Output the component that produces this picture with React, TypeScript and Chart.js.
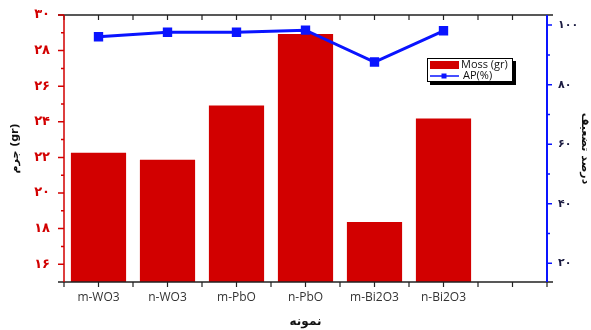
import React, { useEffect, useRef } from 'react';
import { Chart, registerables } from 'chart.js';
Chart.register(...registerables);

const categories = ['m-WO3', 'n-WO3', 'm-PbO', 'n-PbO', 'm-Bi2O3', 'n-Bi2O3', ''];
const mossValues = [22.26, 21.87, 24.92, 28.93, 18.37, 24.18, null];
const apValues = [96.1, 97.6, 97.6, 98.3, 87.6, 98.1, null];
const leftTicks = [16, 18, 20, 22, 24, 26, 28, 30];
const rightTicks = [20, 40, 60, 80, 100];
const leftMinor = [17, 19, 21, 23, 25, 27, 29];
const rightMinor = [30, 50, 70, 90];

const RED = '#d20000';
const BLUE = '#0a14ff';

const faDigits = '۰۱۲۳۴۵۶۷۸۹';
const toFa = (v: number | string) => String(v).replace(/[0-9]/g, (d) => faDigits[Number(d)]);

const framePlugin = {
  id: 'framePlugin',
  afterDraw(chart: any) {
    const { ctx, chartArea } = chart;
    const { left, right, top, bottom } = chartArea;
    const x = chart.scales.x;
    const y = chart.scales.y;
    const y1 = chart.scales.y1;
    ctx.save();
    ctx.strokeStyle = '#222';
    ctx.lineWidth = 1.5;
    ctx.beginPath();
    ctx.moveTo(58, top); ctx.lineTo(553, top);
    ctx.moveTo(58, bottom); ctx.lineTo(553, bottom);
    ctx.stroke();
    ctx.lineWidth = 1.2;
    ctx.beginPath();
    const n = categories.length;
    const half = (x.getPixelForValue(1) - x.getPixelForValue(0)) / 2;
    for (let i = 0; i < n; i++) {
      const c = x.getPixelForValue(i);
      [c, c - half, c + half].forEach((px) => {
        ctx.moveTo(px, bottom); ctx.lineTo(px, bottom + 5);
        ctx.moveTo(px, top); ctx.lineTo(px, top + 5);
      });
    }
    ctx.stroke();
    ctx.strokeStyle = RED;
    ctx.lineWidth = 1.5;
    ctx.beginPath();
    ctx.moveTo(left, top); ctx.lineTo(left, bottom);
    leftTicks.forEach((v) => { const p = y.getPixelForValue(v); ctx.moveTo(left - 6, p); ctx.lineTo(left, p); });
    leftMinor.forEach((v) => { const p = y.getPixelForValue(v); ctx.moveTo(left - 3, p); ctx.lineTo(left, p); });
    ctx.stroke();
    ctx.strokeStyle = BLUE;
    ctx.lineWidth = 2;
    ctx.beginPath();
    ctx.moveTo(right, top); ctx.lineTo(right, bottom);
    ctx.stroke();
    ctx.lineWidth = 1.5;
    ctx.beginPath();
    rightTicks.forEach((v) => { const p = y1.getPixelForValue(v); ctx.moveTo(right, p); ctx.lineTo(right + 5, p); });
    rightMinor.forEach((v) => { const p = y1.getPixelForValue(v); ctx.moveTo(right, p); ctx.lineTo(right + 3, p); });
    ctx.stroke();

    const lx = 427, ly = 58, lw = 86, lh = 24;
    ctx.fillStyle = '#000';
    ctx.fillRect(lx + 3, ly + 3, lw, lh);
    ctx.fillStyle = '#fff';
    ctx.fillRect(lx, ly, lw, lh);
    ctx.strokeStyle = '#000';
    ctx.lineWidth = 1;
    ctx.strokeRect(lx + 0.5, ly + 0.5, lw - 1, lh - 1);
    ctx.fillStyle = RED;
    ctx.fillRect(lx + 3, ly + 3, 29, 8);
    ctx.strokeStyle = BLUE;
    ctx.lineWidth = 1.5;
    ctx.beginPath();
    ctx.moveTo(lx + 3, ly + 18); ctx.lineTo(lx + 32, ly + 18);
    ctx.stroke();
    ctx.fillStyle = BLUE;
    ctx.fillRect(lx + 14.5, ly + 15.5, 5, 5);
    ctx.fillStyle = '#111';
    ctx.font = '11px "Open Sans", sans-serif';
    ctx.textBaseline = 'middle';
    ctx.textAlign = 'left';
    ctx.fillText('Moss (gr)', lx + 34, ly + 7);
    ctx.fillText('AP(%)', lx + 36, ly + 18);
    ctx.restore();
  },
};

export default function App() {
  const ref = useRef<HTMLCanvasElement>(null);
  useEffect(() => {
    document.body.style.margin = '0';
    const chart = new Chart(ref.current as HTMLCanvasElement, {
      type: 'bar',
      data: {
        labels: categories,
        datasets: [
          {
            type: 'line',
            label: 'AP(%)',
            data: apValues,
            yAxisID: 'y1',
            borderColor: BLUE,
            backgroundColor: BLUE,
            borderWidth: 3,
            pointStyle: 'rect',
            pointRadius: 4.5,
            pointBackgroundColor: BLUE,
            pointBorderColor: BLUE,
            spanGaps: false,
            order: 0,
          } as any,
          {
            type: 'bar',
            label: 'Moss (gr)',
            data: mossValues,
            yAxisID: 'y',
            backgroundColor: RED,
            borderWidth: 0,
            categoryPercentage: 1,
            barPercentage: 0.8,
            order: 1,
          } as any,
        ],
      },
      options: {
        animation: false,
        responsive: false,
        layout: { padding: { top: 15, left: 0, right: 0, bottom: 0 } },
        plugins: { legend: { display: false }, tooltip: { enabled: false } },
        scales: {
          x: {
            offset: true,
            grid: { display: false, drawTicks: false },
            border: { display: false },
            ticks: { color: '#333', font: { family: '"Open Sans", sans-serif', size: 12 }, padding: 8, maxRotation: 0 },
            title: { display: true, text: 'نمونه', color: '#111', font: { family: '"DejaVu Sans", sans-serif', size: 12, weight: 'bold' }, padding: { top: 1, bottom: 1 } },
            afterFit: (s: any) => { s.height = 48; s.paddingLeft = 0; s.paddingRight = 0; },
          },
          y: {
            position: 'left',
            min: 15,
            max: 30,
            grid: { display: false, drawTicks: false },
            border: { display: false },
            afterBuildTicks: (s: any) => { s.ticks = leftTicks.map((v) => ({ value: v })); },
            ticks: { color: RED, font: { family: '"DejaVu Sans", sans-serif', size: 13, weight: 'bold' }, padding: 14, callback: (v: any) => toFa(v) },
            title: { display: true, text: 'جرم (gr)', color: '#111', font: { family: '"DejaVu Sans", sans-serif', size: 11, weight: 'bold' }, padding: { top: 9, bottom: 9 } },
            afterFit: (s: any) => { s.width = 64; s.paddingTop = 0; s.paddingBottom = 0; },
          },
          y1: {
            position: 'right',
            min: 13.7,
            max: 103.4,
            grid: { display: false, drawTicks: false },
            border: { display: false },
            afterBuildTicks: (s: any) => { s.ticks = rightTicks.map((v) => ({ value: v })); },
            ticks: { color: '#1a1a40', font: { family: '"DejaVu Sans", sans-serif', size: 11, weight: 'bold' }, padding: 11, callback: (v: any) => toFa(v) },
            title: { display: true, text: 'درصد تضعیف', color: '#111', font: { family: '"DejaVu Sans", sans-serif', size: 11, weight: 'bold' }, padding: { top: 0, bottom: 0 } },
            afterFit: (s: any) => { s.width = 44; s.paddingTop = 0; s.paddingBottom = 0; },
          },
        },
      } as any,
      plugins: [framePlugin],
    });
    return () => chart.destroy();
  }, []);
  return <canvas ref={ref} width={591} height={330} style={{ display: 'block' }} />;
}
